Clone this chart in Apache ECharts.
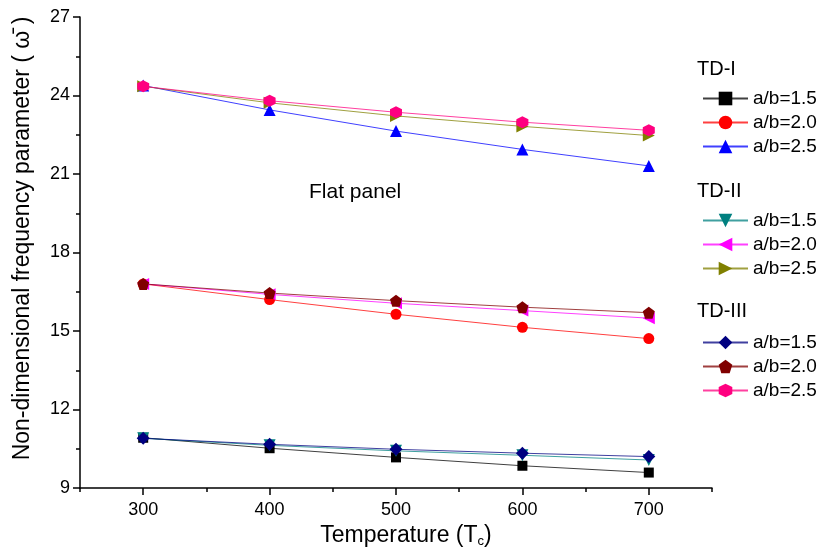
<!DOCTYPE html>
<html>
<head>
<meta charset="utf-8">
<script src="https://cdn.jsdelivr.net/npm/echarts@6/dist/echarts.min.js"></script>
<style>html,body{margin:0;padding:0;background:#fff}#c{width:818px;height:550px}</style>
</head>
<body>
<div id="c"></div>
<script>
var temperatures = [300, 400, 500, 600, 700];
var xMajorTicks = [300, 400, 500, 600, 700];
var xMinorTicks = [250, 350, 450, 550, 650, 750];
var groupNames = ['TD-I', 'TD-II', 'TD-III'];
var ratioNames = ['a/b=1.5', 'a/b=2.0', 'a/b=2.5'];

var tdI_15 = [10.92, 10.52, 10.17, 9.85, 9.59];
var tdI_20 = [16.80, 16.20, 15.64, 15.14, 14.71];
var tdI_25 = [24.38, 23.45, 22.64, 21.94, 21.31];
var tdII_15 = [10.90, 10.63, 10.42, 10.25, 10.07];
var tdII_20 = [16.80, 16.40, 16.06, 15.78, 15.49];
var tdII_25 = [24.35, 23.72, 23.22, 22.82, 22.47];
var tdIII_15 = [10.90, 10.67, 10.48, 10.33, 10.20];
var tdIII_20 = [16.80, 16.45, 16.16, 15.91, 15.70];
var tdIII_25 = [24.35, 23.80, 23.36, 22.98, 22.67];

var FONT = '"Liberation Sans", Arial, sans-serif';
var seriesDefs = [
  {g: 0, r: 0, data: tdI_15, color: '#000000', symbol: 'rect', size: 10},
  {g: 0, r: 1, data: tdI_20, color: '#ff0000', symbol: 'circle', size: 11},
  {g: 0, r: 2, data: tdI_25, color: '#0000ff', symbol: 'triangle', size: 12},
  {g: 1, r: 0, data: tdII_15, color: '#008080', symbol: 'path://M0,0 L10,0 L5,9 Z', size: 12},
  {g: 1, r: 1, data: tdII_20, color: '#ff00ff', symbol: 'path://M9,0 L9,10 L0,5 Z', size: 12},
  {g: 1, r: 2, data: tdII_25, color: '#808000', symbol: 'path://M0,0 L0,10 L9,5 Z', size: 12},
  {g: 2, r: 0, data: tdIII_15, color: '#000080', symbol: 'diamond', size: 13},
  {g: 2, r: 1, data: tdIII_20, color: '#800000', symbol: 'path://M5,0 L10,3.8 L8.1,10 L1.9,10 L0,3.8 Z', size: 12},
  {g: 2, r: 2, data: tdIII_25, color: '#ff0080', symbol: 'path://M5,0 L9.33,2.5 L9.33,7.5 L5,10 L0.67,7.5 L0.67,2.5 Z', size: 12}
];

var series = seriesDefs.map(function (d) {
  return {
    name: groupNames[d.g] + ' ' + ratioNames[d.r],
    type: 'line',
    data: temperatures.map(function (t, i) { return [t, d.data[i]]; }),
    symbol: d.symbol,
    symbolSize: d.size,
    showAllSymbol: true,
    itemStyle: {color: d.color},
    lineStyle: {color: d.color, width: 1, opacity: 0.75},
    emphasis: {disabled: true},
    animation: false
  };
});

var legendTops = [84, 206, 328];
var legends = groupNames.map(function (g, gi) {
  return {
    orient: 'vertical',
    left: 697,
    top: legendTops[gi],
    itemWidth: 45,
    itemHeight: 17,
    itemGap: 5,
    selectedMode: false,
    data: ratioNames.map(function (r) { return g + ' ' + r; }),
    formatter: function (name) { return name.split(' ')[1]; },
    textStyle: {fontFamily: FONT, fontSize: 19, lineHeight: 18, color: '#000'}
  };
});

var headerY = [70, 192, 312];
var graphics = groupNames.map(function (g, gi) {
  return {
    type: 'text', left: 697, top: headerY[gi] - 11,
    style: {text: g, fontFamily: FONT, fontSize: 20, fill: '#000'}
  };
});
graphics.push({
  type: 'text', left: 309, top: 182,
  style: {text: 'Flat panel', fontFamily: FONT, fontSize: 21, fill: '#000'}
});

var chart = echarts.init(document.getElementById('c'), null, {renderer: 'canvas'});
chart.setOption({
  animation: false,
  backgroundColor: '#fff',
  grid: {left: 80, right: 106, top: 17, bottom: 62, containLabel: false, outerBoundsMode: 'none'},
  xAxis: [{
    type: 'value', min: 250, max: 750, position: 'bottom',
    name: 'Temperature (T{sub|c})',
    nameLocation: 'middle', nameGap: 24,
    nameTextStyle: {fontFamily: FONT, fontSize: 23, color: '#000', padding: [0, 0, 0, 20],
      rich: {sub: {fontFamily: FONT, fontSize: 13, verticalAlign: 'bottom', padding: [13, 0, 0, 0]}}},
    axisLine: {lineStyle: {color: '#000', width: 1.5}},
    axisTick: {length: 7, lineStyle: {color: '#000', width: 1.5}, customValues: xMajorTicks},
    axisLabel: {fontFamily: FONT, fontSize: 18, color: '#000', margin: 13, customValues: xMajorTicks},
    splitLine: {show: false}
  }, {
    type: 'value', min: 250, max: 750, position: 'bottom', gridIndex: 0,
    axisLine: {show: false},
    axisTick: {length: 4, lineStyle: {color: '#000', width: 1.5}, customValues: xMinorTicks},
    axisLabel: {show: false},
    splitLine: {show: false}
  }],
  yAxis: {
    type: 'value', min: 9, max: 27, interval: 3,
    name: 'Non-dimensional frequency parameter ( ω̄ )',
    nameLocation: 'middle', nameGap: 46,
    nameTextStyle: {fontFamily: FONT, fontSize: 23, color: '#000', padding: [0, 0, 0, 28]},
    axisLine: {show: true, lineStyle: {color: '#000', width: 1.5}},
    axisTick: {show: true, length: 7, lineStyle: {color: '#000', width: 1.5}},
    minorTick: {show: true, splitNumber: 2, length: 4, lineStyle: {color: '#000', width: 1.5}},
    axisLabel: {fontFamily: FONT, fontSize: 18, color: '#000', margin: 10},
    splitLine: {show: false}
  },
  legend: legends,
  graphic: graphics,
  series: series
});
</script>
</body>
</html>
